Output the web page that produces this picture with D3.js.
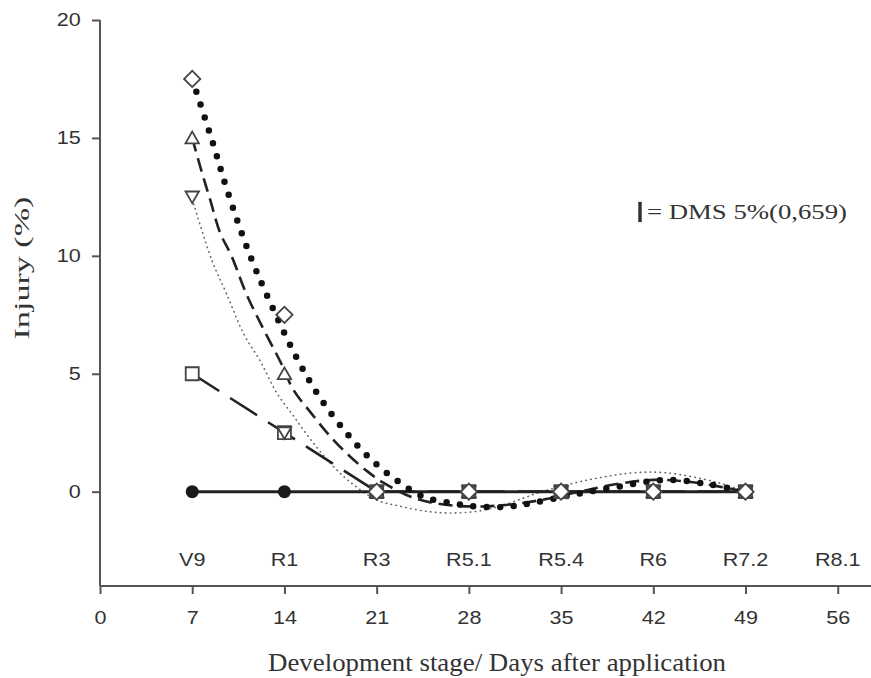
<!DOCTYPE html>
<html>
<head>
<meta charset="utf-8">
<script src="https://cdn.jsdelivr.net/npm/d3@7"></script>
<style>
  body { margin: 0; background: #fff; }
  svg { display: block; }
</style>
</head>
<body>
<div id="chart"></div>
<script>
// Observed points
const days = [7, 14, 21, 28, 35, 42, 49];
const circleVals = [0, 0, 0, 0, 0, 0, 0];
const squareVals = [5, 2.5, 0, 0, 0, 0, 0];
const triUpVals = [15, 5, 0, 0, 0, 0, 0];
const triDownVals = [12.5, 2.5, 0, 0, 0, 0, 0];
const diamondVals = [17.5, 7.5, 0, 0, 0, 0, 0];

// Fitted curves
const diamondFitX = [7, 8.5, 9.7, 11.4, 13.1, 15, 16.8, 19, 20.9, 22.6, 24.5, 26.8, 28.8, 30.9, 32.9, 35.9, 39.3, 43, 46.3, 49];
const diamondFitY = [17.5, 14.9, 12.7, 10.0, 7.8, 5.6, 3.9, 2.3, 1.2, 0.45, -0.2, -0.5, -0.64, -0.64, -0.47, -0.13, 0.21, 0.5, 0.3, 0];
const triUpFitX = [7, 7.7, 8.35, 9.1, 10, 11.1, 12.4, 13.7, 14.7, 16, 17.5, 19, 20.3, 21.5, 24, 27, 30, 33, 36, 39, 42, 45, 49];
const triUpFitY = [15, 13.6, 12.4, 11.0, 9.97, 8.4, 6.9, 5.5, 4.3, 3.35, 2.33, 1.48, 0.86, 0.38, -0.3, -0.6, -0.6, -0.4, -0.05, 0.3, 0.5, 0.4, 0];
const triDownFitX = [7, 8.5, 9.6, 10.9, 12.2, 13.4, 14.7, 16, 17.5, 19, 21, 22.8, 25, 27, 29, 31, 33, 35.5, 38, 40.5, 43, 46.8, 49];
const triDownFitY = [12.4, 9.8, 8.4, 6.7, 5.5, 4.2, 3.2, 2.2, 1.2, 0.4, -0.35, -0.62, -0.85, -0.9, -0.8, -0.5, -0.1, 0.3, 0.6, 0.8, 0.8, 0.4, 0];

// Axes
const xTicks = [0, 7, 14, 21, 28, 35, 42, 49, 56];
const yTicks = [0, 5, 10, 15, 20];
const stageDays = [7, 14, 21, 28, 35, 42, 49, 56];
const stageLabels = ['V9', 'R1', 'R3', 'R5.1', 'R5.4', 'R6', 'R7.2', 'R8.1'];
const dmsValue = 0.659;
const dmsLabel = '= DMS 5%(0,659)';

const width = 871, height = 678;

const svg = d3.select('#chart')
    .append('svg')
    .attr('width', width)
    .attr('height', height);

const x = d3.scaleLinear().domain([0, 58.6]).range([100, 872]);
const y = d3.scaleLinear().domain([-4, 20]).range([586, 20]);

const axisColor = '#555';
const textColor = '#333';
const sans = '"Liberation Sans", Arial, sans-serif';
const serif = '"Liberation Serif", "Times New Roman", serif';
const stretch = 1.2; // labels in the reference are a bit wider than tall

// y axis
const yAxis = svg.append('g')
    .attr('transform', 'translate(100,0)')
    .call(d3.axisLeft(y).tickValues(yTicks).tickSize(8).tickPadding(8));
// x axis
const xAxis = svg.append('g')
    .attr('transform', `translate(0,${y(-4)})`)
    .call(d3.axisBottom(x).tickValues(xTicks).tickSize(8).tickPadding(17));

[yAxis, xAxis].forEach(g => {
    g.select('.domain').attr('stroke', axisColor).attr('stroke-width', 2);
    g.selectAll('.tick line').attr('stroke', axisColor).attr('stroke-width', 2);
    g.selectAll('.tick text')
        .attr('fill', textColor)
        .attr('transform', `scale(${stretch},1)`)
        .style('font-family', sans)
        .style('font-size', '18px');
});
xAxis.select('.domain').attr('d', `M${x(0)},0H872`);
yAxis.select('.domain').attr('d', `M0,${y(20)}V${y(-4)}`);

// Stage labels
svg.append('g')
    .selectAll('text')
    .data(stageDays)
    .enter()
    .append('text')
    .attr('transform', d => `translate(${x(d)},566) scale(${stretch},1)`)
    .attr('text-anchor', 'middle')
    .attr('fill', textColor)
    .style('font-family', sans)
    .style('font-size', '18px')
    .text((d, i) => stageLabels[i]);

// Titles
svg.append('text')
    .attr('x', 497)
    .attr('y', 671)
    .attr('text-anchor', 'middle')
    .attr('fill', textColor)
    .attr('textLength', 458)
    .attr('lengthAdjust', 'spacingAndGlyphs')
    .style('font-family', serif)
    .style('font-size', '25px')
    .text('Development stage/ Days after application');

svg.append('text')
    .attr('transform', 'translate(29,268) rotate(-90)')
    .attr('text-anchor', 'middle')
    .attr('fill', textColor)
    .attr('textLength', 143)
    .attr('lengthAdjust', 'spacingAndGlyphs')
    .style('font-family', serif)
    .style('font-size', '21px')
    .text('Injury (%)');

// Lines
const pts = (xs, ys) => xs.map((d, i) => [d, ys[i]]);
const smooth = d3.line().x(d => x(d[0])).y(d => y(d[1])).curve(d3.curveCatmullRom.alpha(0.5));
const straight = d3.line().x(d => x(d[0])).y(d => y(d[1]));

// thin dotted fit (triangle down)
svg.append('path')
    .attr('d', smooth(pts(triDownFitX, triDownFitY)))
    .attr('fill', 'none')
    .attr('stroke', '#666')
    .attr('stroke-width', 1.6)
    .attr('stroke-linecap', 'round')
    .attr('stroke-dasharray', '0.5,4.5');

// solid line (circle)
svg.append('path')
    .attr('d', straight(pts(days, circleVals)))
    .attr('fill', 'none')
    .attr('stroke', '#222')
    .attr('stroke-width', 3);

// long dashed (square)
svg.append('path')
    .attr('d', straight(pts(days, squareVals)))
    .attr('fill', 'none')
    .attr('stroke', '#222')
    .attr('stroke-width', 2.6)
    .attr('stroke-dasharray', '32,13');

// dashed fit (triangle up)
svg.append('path')
    .attr('d', smooth(pts(triUpFitX, triUpFitY)))
    .attr('fill', 'none')
    .attr('stroke', '#222')
    .attr('stroke-width', 2.6)
    .attr('stroke-dasharray', '14,7');

// big dotted fit (diamond)
svg.append('path')
    .attr('d', smooth(pts(diamondFitX, diamondFitY)))
    .attr('fill', 'none')
    .attr('stroke', '#111')
    .attr('stroke-width', 6.5)
    .attr('stroke-linecap', 'round')
    .attr('stroke-dasharray', '0,13.5');

// Markers
const markerStroke = '#444';
function drawMarkers(vals, shape) {
    const g = svg.append('g');
    const data = pts(days, vals);
    if (shape === 'circle') {
        g.selectAll('circle').data(data).enter().append('circle')
            .attr('cx', d => x(d[0])).attr('cy', d => y(d[1])).attr('r', 6.5)
            .attr('fill', '#1a1a1a');
        return;
    }
    const sym = {
        square: d3.symbol().type(d3.symbolSquare).size(169)(),
        triUp: d3.symbol().type(d3.symbolTriangle).size(78)(),
        triDown: d3.symbol().type(d3.symbolTriangle).size(78)(),
        diamond: d3.symbol().type(d3.symbolSquare).size(132)()
    }[shape];
    const rot = {square: 0, triUp: 0, triDown: 180, diamond: 45}[shape];
    const dy = {square: 0, triUp: 1.5, triDown: -1.5, diamond: 0}[shape];
    g.selectAll('path').data(data).enter().append('path')
        .attr('d', sym)
        .attr('transform', d => `translate(${x(d[0])},${y(d[1]) + dy}) rotate(${rot})`)
        .attr('fill', '#fff')
        .attr('stroke', markerStroke)
        .attr('stroke-width', 1.8);
}
drawMarkers(circleVals, 'circle');
drawMarkers(squareVals, 'square');
drawMarkers(triDownVals, 'triDown');
drawMarkers(triUpVals, 'triUp');
drawMarkers(diamondVals, 'diamond');

// DMS bar and note
const dmsCenter = 11.86;
svg.append('line')
    .attr('x1', 640).attr('x2', 640)
    .attr('y1', y(dmsCenter - dmsValue / 2 - 0.1))
    .attr('y2', y(dmsCenter + dmsValue / 2 + 0.1))
    .attr('stroke', '#333')
    .attr('stroke-width', 3.5);

svg.append('text')
    .attr('x', 647)
    .attr('y', 219)
    .attr('fill', textColor)
    .attr('textLength', 200)
    .attr('lengthAdjust', 'spacingAndGlyphs')
    .style('font-family', serif)
    .style('font-size', '20px')
    .text(dmsLabel);
</script>
</body>
</html>
